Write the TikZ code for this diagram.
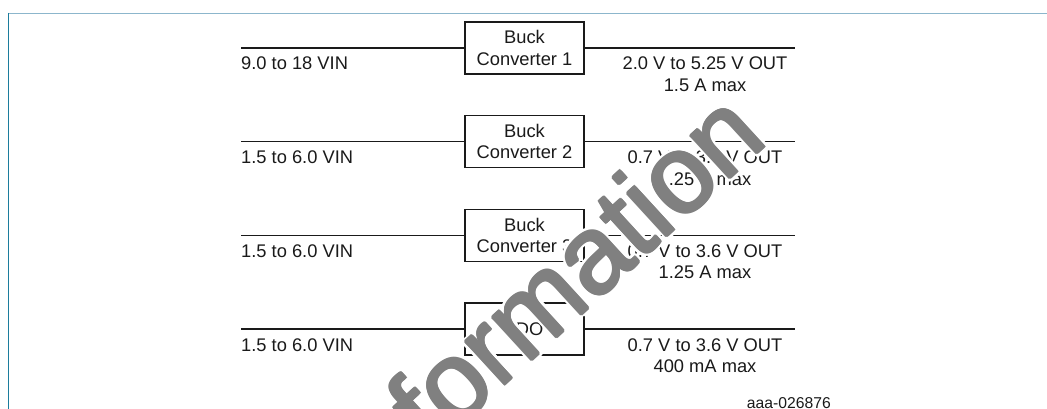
\documentclass[tikz,border=0pt]{standalone}
\usepackage{fontspec}
\setmainfont{Liberation Sans}
\definecolor{topblue}{HTML}{8CB6CC}
\definecolor{leftteal}{HTML}{1C7C9C}
\definecolor{wmgray}{HTML}{808080}
\definecolor{ink}{HTML}{1A1A1A}
\begin{document}
\begin{tikzpicture}[x=1pt,y=-1pt,
  conv/.style={draw=ink, line width=1.4pt, minimum width=119pt, minimum height=52pt, inner sep=0pt, align=center, font=\fontsize{18.3}{21.5}\selectfont, text=ink},
  wire/.style={draw=ink, line width=1.4pt},
  lbl/.style={font=\fontsize{18.3}{21.5}\selectfont, inner sep=0pt, text=ink},
  idlbl/.style={font=\fontsize{15.7}{18}\selectfont, inner sep=0pt, text=ink},
  wm/.style={font=\fontsize{110}{110}\selectfont, rotate=42.5, anchor=base, inner sep=0pt},
  ]
\useasboundingbox (0,0) rectangle (1047,409);
\fill[white] (0,0) rectangle (1047,409);
% frame
\draw[topblue, line width=1.5pt] (8,13.5) -- (1047,13.5);
\draw[leftteal, line width=1.5pt] (8.5,12.8) -- (8.5,409);
% rows
\node[conv] (b1) at (524.5,48) {Buck\\Converter 1};
\node[conv] (b2) at (524.5,141.7) {Buck\\Converter 2};
\node[conv] (b3) at (524.5,235.4) {Buck\\Converter 3};
\node[conv] (b4) at (524.5,329) {LDO};
\foreach \k/\y in {1/48,2/141.7,3/235.4,4/329}{
  \coordinate (i\k) at (241,\y);
  \coordinate (o\k) at (795,\y);
  \draw[wire] (i\k) -- (b\k.west);
  \draw[wire] (b\k.east) -- (o\k);
}
\node[lbl, anchor=base west] (in1) at (241,70) {9.0 to 18 VIN};
\node[lbl, anchor=base west] (in2) at (241,163.7) {1.5 to 6.0 VIN};
\node[lbl, anchor=base west] (in3) at (241,257.4) {1.5 to 6.0 VIN};
\node[lbl, anchor=base west] (in4) at (241,351) {1.5 to 6.0 VIN};
\node[lbl, anchor=base] (out1a) at (705,70) {2.0 V to 5.25 V OUT};
\node[lbl, anchor=base] (out1b) at (705,91.5) {1.5 A max};
\node[lbl, anchor=base] (out2a) at (705,163.7) {0.7 V to 3.6 V OUT};
\node[lbl, anchor=base] (out2b) at (705,185.2) {1.25 A max};
\node[lbl, anchor=base] (out3a) at (705,257.4) {0.7 V to 3.6 V OUT};
\node[lbl, anchor=base] (out3b) at (705,278.9) {1.25 A max};
\node[lbl, anchor=base] (out4a) at (705,351) {0.7 V to 3.6 V OUT};
\node[lbl, anchor=base] (out4b) at (705,372.5) {400 mA max};
\node[idlbl, anchor=base east] (fig) at (831,408) {aaa-026876};
% watermark: white halo, then slightly thickened grey letters
\foreach \r in {2.2,3.8}{
  \foreach \a in {0,22.5,...,337.5}{
    \node[wm, text=white, xshift={\r*cos(\a)}, yshift={\r*sin(\a)}] at (601,297) {formation};
  }
}
\foreach \a in {0,45,...,315}{
  \node[wm, text=wmgray, xshift={1.3*cos(\a)}, yshift={1.3*sin(\a)}] at (601,297) {formation};
}
\node[wm, text=wmgray] (wmark) at (601,297) {formation};
\end{tikzpicture}
\end{document}
